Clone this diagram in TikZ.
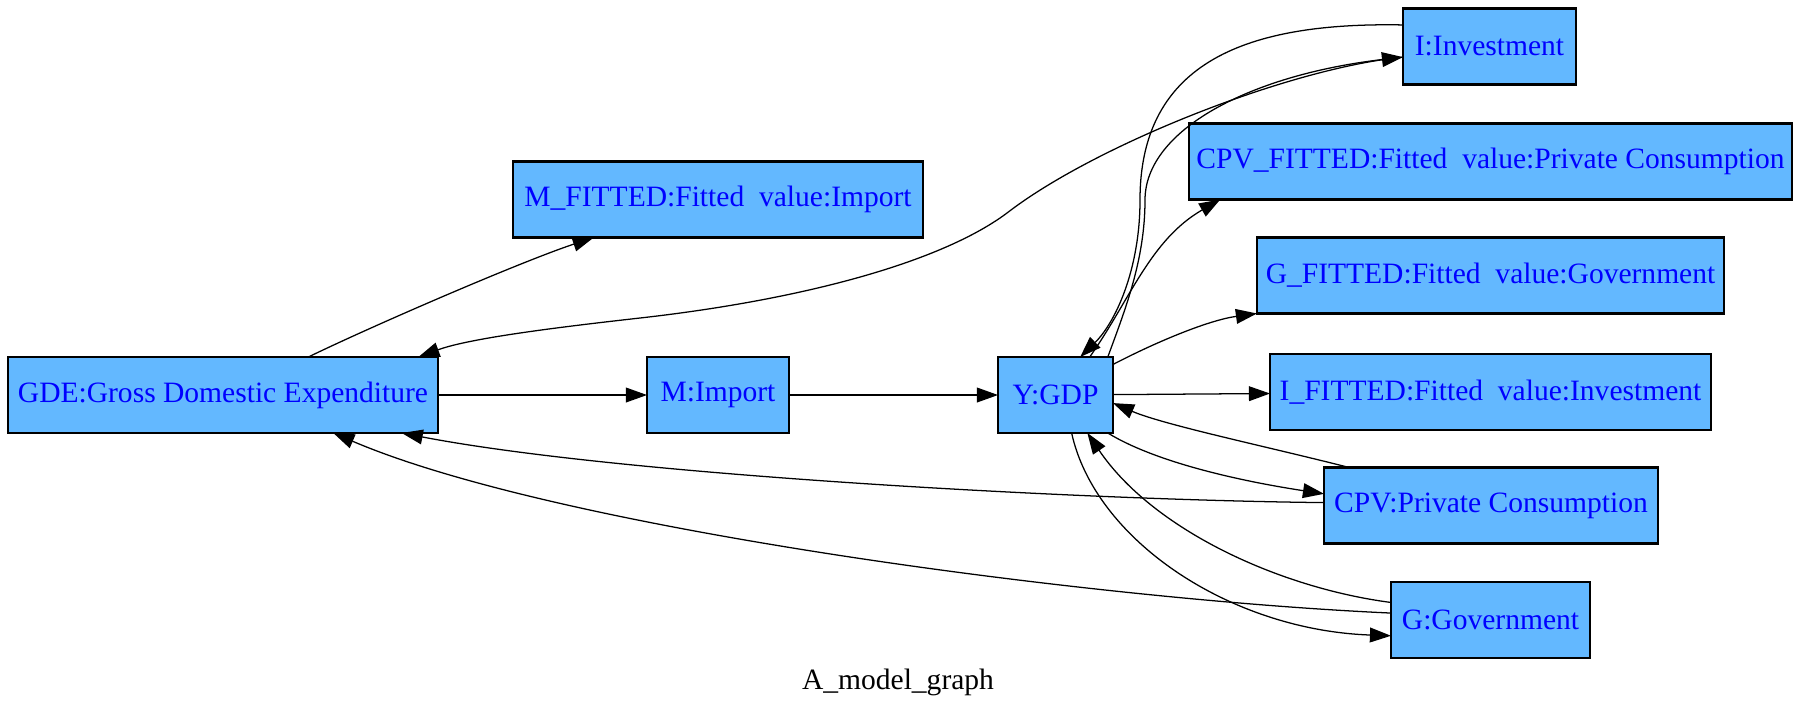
\documentclass[tikz,border=0pt]{standalone}
\usepackage{fontspec}
\setmainfont{Liberation Serif}
\newfontfamily\labelfont{Liberation Serif}
\usetikzlibrary{arrows.meta}
\definecolor{boxfill}{RGB}{99,184,255}

\begin{document}
\begin{tikzpicture}
  [x=0.474pt,y=-0.474pt,
   var/.style={rectangle,draw=black,line width=1pt,fill=boxfill,text=blue,
     font=\labelfont\fontsize{14}{16}\selectfont,minimum height=36pt,inner sep=0pt,outer sep=0pt},
   link/.style={draw=black,line width=0.6pt,-{Triangle[length=10pt,width=7pt]}}]
  \useasboundingbox (0,0) rectangle (1800,716);

  \node[var,minimum width=203.8pt] (gde) at (223,395) {GDE:Gross Domestic Expenditure};
  \node[var,minimum width=194.3pt] (mfit) at (718,199.5) {M\_FITTED:Fitted\ \ value:Import};
  \node[var,minimum width=67.3pt] (imp) at (718,395) {M:Import};
  \node[var,minimum width=54.5pt] (gdp) at (1055.5,395) {Y:GDP};
  \node[var,minimum width=82pt] (inv) at (1489.5,46.5) {I:Investment};
  \node[var,minimum width=285.8pt] (cpvfit) at (1490.5,161.5) {CPV\_FITTED:Fitted\ \ value:Private Consumption};
  \node[var,minimum width=221.4pt] (gfit) at (1490.5,275.5) {G\_FITTED:Fitted\ \ value:Government};
  \node[var,minimum width=209pt] (ifit) at (1490.5,392) {I\_FITTED:Fitted\ \ value:Investment};
  \node[var,minimum width=158.3pt] (cpv) at (1491,505.5) {CPV:Private Consumption};
  \node[var,minimum width=94.3pt] (gov) at (1490.5,620) {G:Government};

  \node[font=\labelfont\fontsize{14}{16}\selectfont,inner sep=0pt] (title) at (898,682) {A\_model\_graph};

  \foreach \from/\to in {gde/imp, imp/gdp, gdp/ifit}
    \draw[link] (\from) -- (\to);

  \draw[link] (gde.24) .. controls (370,327) and (520,262) .. (mfit.197);
  \draw[link] (inv.187) .. controls (1290,68) and (1095,145) .. (1007,213)
    .. controls (940,263) and (800,300) .. (640,318)
    .. controls (560,327) and (470,338) .. (gde.11);
  \draw[link] (inv.166) .. controls (1250,22) and (1140,60) .. (1140,200)
    .. controls (1140,270) and (1115,323) .. (gdp.57);
  \draw[link] (gdp.36) .. controls (1125,310) and (1145,260) .. (1145,200)
    .. controls (1145,130) and (1250,75) .. (inv.187);
  \draw[link] (gdp.48) .. controls (1130,300) and (1150,240) .. (cpvfit.188);
  \draw[link] (gdp.28) .. controls (1160,340) and (1210,320) .. (gfit.south west);
  \draw[link] (cpv.165) .. controls (1269,447) and (1164,425) .. (gdp.352);
  \draw[link] (gdp.324) .. controls (1160,465) and (1253,483) .. (cpv.176);
  \draw[link] (cpv.179) .. controls (1080,500) and (620,475) .. (gde.348);
  \draw[link] (gov.176) .. controls (1100,600) and (560,530) .. (gde.341);
  \draw[link] (gov.170) .. controls (1280,588) and (1153,530) .. (gdp.310);
  \draw[link] (gdp.293) .. controls (1095,540) and (1230,630) .. (gov.189);

\end{tikzpicture}
\end{document}
